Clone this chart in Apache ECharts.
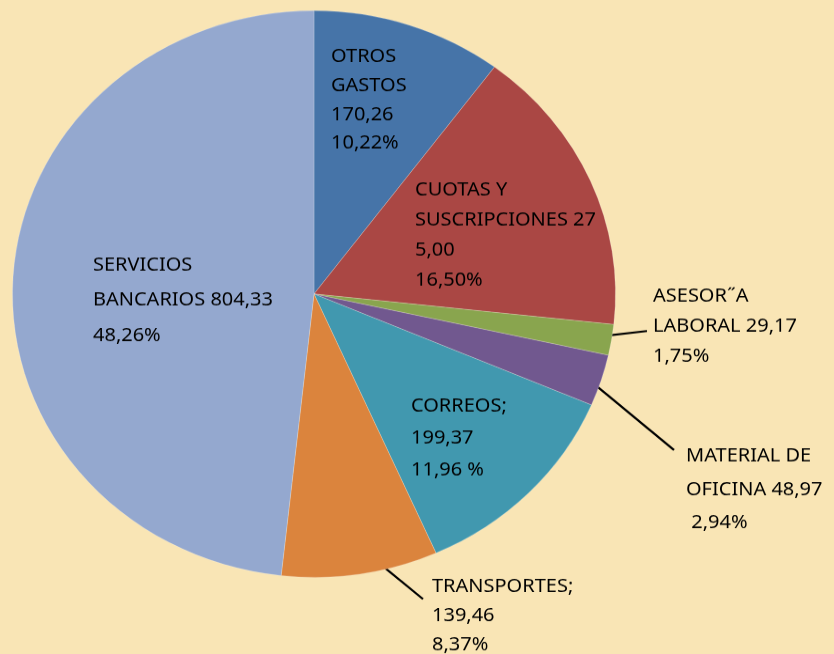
<!DOCTYPE html>
<html>
<head>
<meta charset="utf-8">
<script src="https://cdn.jsdelivr.net/npm/echarts@6/dist/echarts.min.js"></script>
<style>
  html, body { margin: 0; padding: 0; background: #F9E5B5; overflow: hidden; }
  /* the original pie is a bit flatter than a circle, so squeeze the whole chart vertically */
  #main { width: 834px; height: 696px; transform: scaleY(0.9397); transform-origin: 0 0; }
</style>
</head>
<body>
<div id="main"></div>
<script>
// gastos, in order clockwise from 12 o'clock
var categories = ['OTROS GASTOS', 'CUOTAS Y SUSCRIPCIONES', 'ASESOR˝A LABORAL', 'MATERIAL DE OFICINA',
                  'CORREOS', 'TRANSPORTES', 'SERVICIOS BANCARIOS'];
var values = [170.26, 275.00, 29.17, 48.97, 199.37, 139.46, 804.33];
// label text exactly as printed on the chart
var labelText = [
  'OTROS\nGASTOS\n170,26\n10,22%',
  'CUOTAS Y\nSUSCRIPCIONES 27\n5,00\n16,50%',
  'ASESOR˝A\nLABORAL 29,17\n1,75%',
  'MATERIAL DE\nOFICINA 48,97\n 2,94%',
  'CORREOS;\n199,37\n11,96 %',
  'TRANSPORTES;\n139,46\n8,37%',
  'SERVICIOS\nBANCARIOS 804,33\n48,26%'
];
var colors = ['#4674A8', '#AA4744', '#89A54E', '#71588F', '#4198AF', '#DB843D', '#94A8CF'];

var S = 654 / 696; // vertical squeeze of the container

// label placement in picture coords: [left x, top of capitals, line spacing]
var labelPos = [
  [331, 48, 29],
  [415, 182, 30],
  [653, 288, 30],
  [686, 448, 33],
  [411, 398, 32],
  [432, 578, 29],
  [93, 257, 35]
];
// leader lines for the small slices (picture coords), null = label inside the slice
var leaders = [null, null, [[603, 336], [647, 331]], [[593, 383], [674, 450]], null, [[379, 563], [423, 599]], null];

var chart = echarts.init(document.getElementById('main'));

var data = categories.map(function (name, i) {
  var lh = labelPos[i][2] / S;
  return {
    name: name,
    value: values[i],
    itemStyle: { color: colors[i] },
    label: { position: leaders[i] ? 'outside' : 'inside', lineHeight: lh },
    labelLine: { show: !!leaders[i] }
  };
});

var option = {
  backgroundColor: '#F9E5B5',
  animation: false,
  series: [{
    type: 'pie',
    center: [314, 312.8],
    radius: 301.5,
    startAngle: 90,
    clockwise: true,
    avoidLabelOverlap: false,
    emphasis: { disabled: true },
    itemStyle: { borderColor: 'rgba(255,255,255,0.35)', borderWidth: 0.6 },
    label: {
      formatter: function (p) { return labelText[p.dataIndex]; },
      color: '#000',
      fontFamily: 'Noto Sans',
      fontSize: 20,
      align: 'left'
    },
    labelLine: { lineStyle: { color: '#000', width: 2.2 } },
    labelLayout: function (params) {
      var i = params.dataIndex;
      var p = labelPos[i];
      var lh = p[2] / S;
      var res = {
        x: p[0],
        y: p[1] / S - lh / 2 + 9,
        align: 'left',
        verticalAlign: 'top'
      };
      if (leaders[i]) {
        res.labelLinePoints = leaders[i].map(function (pt) { return [pt[0], pt[1] / S]; });
      }
      return res;
    },
    data: data
  }]
};

chart.setOption(option);
</script>
</body>
</html>
